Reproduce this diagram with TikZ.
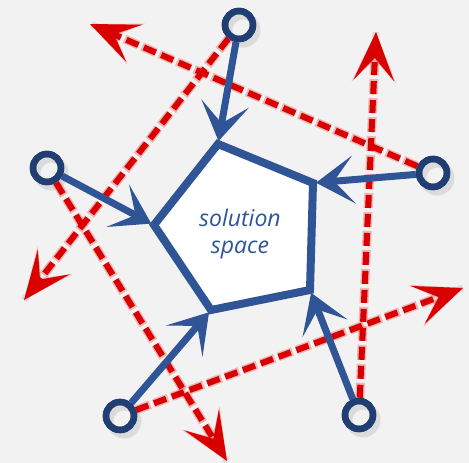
\documentclass[tikz,border=0pt]{standalone}
\usepackage{fontspec}
\newfontfamily\labelfont{Open Sans}
\usetikzlibrary{arrows.meta}
\definecolor{bg}{HTML}{F2F2F2}
\definecolor{pblue}{HTML}{2F5597}
\definecolor{rblue}{HTML}{213E72}
\definecolor{sred}{HTML}{D80000}
\definecolor{fuzz}{HTML}{F07070}
\definecolor{shd}{HTML}{9A9A9A}
\begin{document}
\begin{tikzpicture}[x=1pt,y=-1pt,
  ring/.style={circle, draw=rblue, line width=6.5pt, minimum size=28pt, inner sep=0pt},
  bluearrow/.style={draw=pblue, line width=7pt, shorten >=3pt, -{Stealth[length=38pt,width=48pt,inset=20pt]}},
  redarrow/.style={draw=sred, line width=6pt, dash pattern=on 13pt off 6pt, -{Stealth[length=48pt,width=40pt,inset=22pt]}},
  redfuzz/.style={draw=fuzz, opacity=0.45, line width=9pt, dash pattern=on 15pt off 4pt, -{Stealth[length=50pt,width=44pt,inset=22pt]}},
  pent/.style={draw=pblue, fill=white, line width=8pt, line join=miter},
  shadowline/.style={draw=shd, opacity=0.25, line width=7pt},
  label/.style={font=\labelfont\itshape\fontsize{23}{27}\selectfont, text=pblue, align=center}]
\fill[bg] (0,0) rectangle (469,463);
\useasboundingbox (0,0) rectangle (469,463);
% pentagon corners
\coordinate (p1) at (218,144);
\coordinate (p2) at (313,183);
\coordinate (p3) at (310,290);
\coordinate (p4) at (211,310);
\coordinate (p5) at (154,225);
% arrow tips of the red lines
\coordinate (t1) at (24,300);
\coordinate (t2) at (227,461);
\coordinate (t3) at (463,288);
\coordinate (t4) at (376,32);
\coordinate (t5) at (90,24);
% rings
\node[ring] (c1) at (239,25) {};
\node[ring] (c2) at (47,168) {};
\node[ring] (c3) at (433,173) {};
\node[ring] (c4) at (120,416) {};
\node[ring] (c5) at (359,415) {};
% shadows
\begin{scope}[shift={(4,5)}]
  \draw[shadowline, dash pattern=on 13pt off 6pt] (c1) -- (t1);
  \draw[shadowline, dash pattern=on 13pt off 6pt] (c2) -- (t2);
  \draw[shadowline, dash pattern=on 13pt off 6pt] (c4) -- (t3);
  \draw[shadowline, dash pattern=on 13pt off 6pt] (c5) -- (t4);
  \draw[shadowline, dash pattern=on 13pt off 6pt] (c3) -- (t5);
  \fill[shd, opacity=0.3] (p1) -- (p2) -- (p3) -- (p4) -- (p5) -- cycle;
  \foreach \c in {(239,25),(47,168),(433,173),(120,416),(359,415)}
    \draw[shd, opacity=0.25, line width=7pt] \c circle[radius=14pt];
\end{scope}
% red dashed lines
\draw[redfuzz] (c1) -- (t1);
\draw[redfuzz] (c2) -- (t2);
\draw[redfuzz] (c4) -- (t3);
\draw[redfuzz] (c5) -- (t4);
\draw[redfuzz] (c3) -- (t5);
\draw[redarrow] (c1) -- (t1);
\draw[redarrow] (c2) -- (t2);
\draw[redarrow] (c4) -- (t3);
\draw[redarrow] (c5) -- (t4);
\draw[redarrow] (c3) -- (t5);
% solution space
\draw[pent] (p1) -- (p2) -- (p3) -- (p4) -- (p5) -- cycle;
\node[label] (lbl) at (240,234) {solution\\space};
% blue arrows
\draw[bluearrow] (c1) -- (p1);
\draw[bluearrow] (c2) -- (p5);
\draw[bluearrow] (c3) -- (p2);
\draw[bluearrow] (c4) -- (p4);
\draw[bluearrow] (c5) -- (p3);
% rings on top
\foreach \c in {(239,25),(47,168),(433,173),(120,416),(359,415)}
  \draw[rblue, line width=6.5pt] \c circle[radius=14pt];
\end{tikzpicture}
\end{document}
